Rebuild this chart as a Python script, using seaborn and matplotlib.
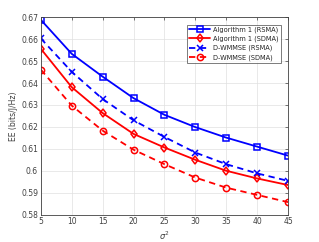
import numpy as np
import pandas as pd
import matplotlib
matplotlib.use("Agg")
import matplotlib.pyplot as plt
import seaborn as sns

sigma2 = [5, 10, 15, 20, 25, 30, 35, 40, 45]
alg1_rsma = [0.6688, 0.6533, 0.6429, 0.6331, 0.6255, 0.6199, 0.6151, 0.6110, 0.6069]
alg1_sdma = [0.6556, 0.6381, 0.6263, 0.6168, 0.6106, 0.6050, 0.6000, 0.5965, 0.5935]
wmmse_rsma = [0.6603, 0.6451, 0.6327, 0.6230, 0.6154, 0.6083, 0.6030, 0.5988, 0.5954]
wmmse_sdma = [0.6461, 0.6297, 0.6183, 0.6096, 0.6030, 0.5969, 0.5923, 0.5890, 0.5857]

labels = ["Algorithm 1 (RSMA)", "Algorithm 1 (SDMA)", "D-WMMSE (RSMA)", "D-WMMSE (SDMA)"]
series = [alg1_rsma, alg1_sdma, wmmse_rsma, wmmse_sdma]

df = pd.concat([pd.DataFrame({"sigma2": sigma2, "EE": v, "method": l})
                for l, v in zip(labels, series)])

sns.set_style("white")
plt.rcParams['font.family'] = ['DejaVu Sans']

fig = plt.figure(figsize=(3.19, 2.42), dpi=100)
ax = fig.add_axes([0.128, 0.113, 0.775, 0.816])

styles = {
    "Algorithm 1 (RSMA)": ("blue", "-", "s"),
    "Algorithm 1 (SDMA)": ("red", "-", "d"),
    "D-WMMSE (RSMA)": ("blue", (0, (3.5, 2.5)), "x"),
    "D-WMMSE (SDMA)": ("red", (0, (3.5, 2.5)), "o"),
}
for l in labels:
    c, ls, m = styles[l]
    sub = df[df.method == l]
    sns.lineplot(data=sub, x="sigma2", y="EE", ax=ax, color=c, linestyle=ls,
                 marker=m, markersize=4.5, markerfacecolor="none",
                 markeredgecolor=c, markeredgewidth=1.1, linewidth=1.3, label=l)

ax.set_xlim(5, 45)
ax.set_ylim(0.58, 0.67)
ax.set_xticks(range(5, 46, 5))
ax.set_yticks(np.arange(0.58, 0.671, 0.01))
ax.set_yticklabels(["0.58", "0.59", "0.6", "0.61", "0.62", "0.63", "0.64", "0.65", "0.66", "0.67"])
ax.grid(True, color="#e0e0e0", linewidth=0.5)
ax.tick_params(direction="in", labelsize=5.5, length=2.5, width=0.5,
               right=True, top=True, colors="#404040", pad=2)
for s in ax.spines.values():
    s.set_color("#404040")
    s.set_linewidth(0.6)
ax.set_xlabel("$\\sigma^2$", fontsize=6, color="#404040", labelpad=2)
ax.set_ylabel("EE (bits/J/Hz)", fontsize=5.5, color="#404040", labelpad=2)

leg = ax.legend(loc="upper right", fontsize=4.8, frameon=True, fancybox=False,
                edgecolor="#404040", borderpad=0.3, labelspacing=0.4,
                handlelength=3.2, handletextpad=0.4, borderaxespad=1.1)
leg.get_frame().set_linewidth(0.6)

fig.savefig("out.png", dpi=100)
